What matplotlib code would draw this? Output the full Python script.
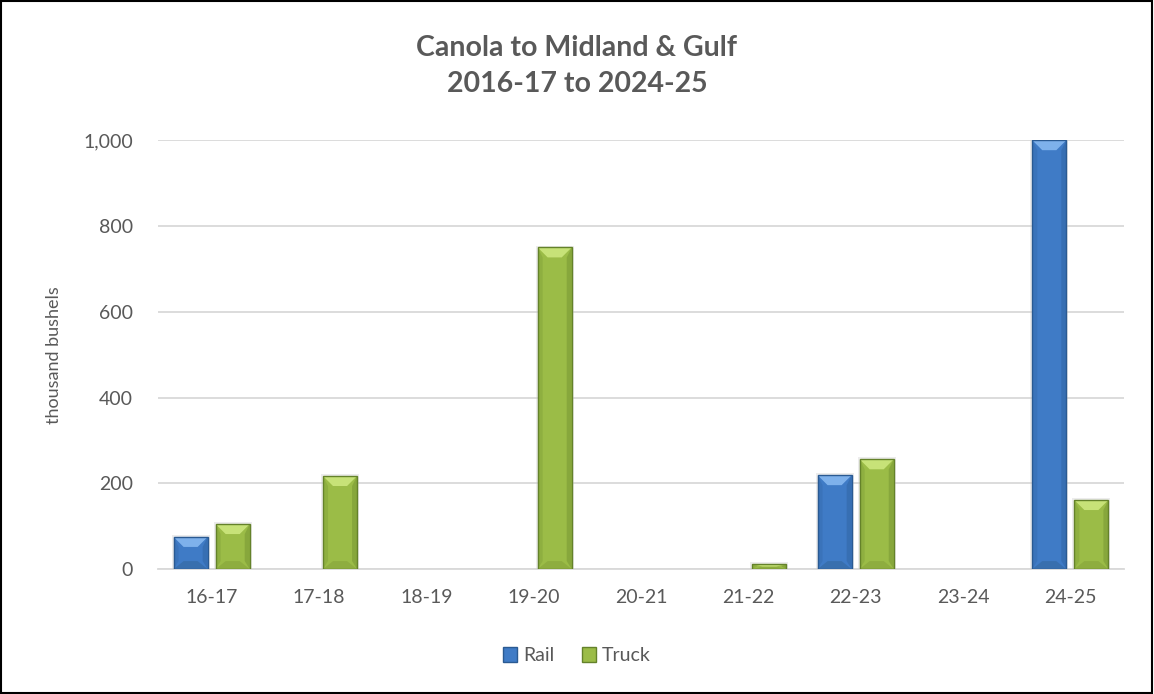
import matplotlib
matplotlib.use("Agg")
import matplotlib.pyplot as plt
from matplotlib.patches import Polygon, Rectangle
from matplotlib.ticker import FuncFormatter
import numpy as np

categories = ["16-17", "17-18", "18-19", "19-20", "20-21", "21-22", "22-23", "23-24", "24-25"]
rail = [75, 0, 0, 0, 0, 0, 219, 0, 1000]
truck = [105, 217, 0, 750, 0, 12, 256, 0, 161]
title = "Canola to Midland & Gulf\n2016-17 to 2024-25"
ylabel = "thousand bushels"

plt.rcParams['font.family'] = ['Lato', 'DejaVu Sans']
TXT = "#595959"

fig = plt.figure(figsize=(11.54, 6.94), dpi=100)
ax = fig.add_axes([0.1369, 0.180, 0.8371, 0.618])

x = np.arange(len(categories))
w = 0.317
gap = 0.075
styles = {
    "Rail": dict(face="#3f7bc6", light="#86b8f0", dark="#2a5a92", low="#34689f"),
    "Truck": dict(face="#9bbc47", light="#cde77e", dark="#64822a", low="#86a33a"),
}
series = [("Rail", rail, -(w + gap) / 2), ("Truck", truck, (w + gap) / 2)]

ax.set_xlim(-0.5, len(categories) - 0.5)
ax.set_ylim(0, 1000)
fig.canvas.draw()

def px_to_data(dx_px, dy_px):
    inv = ax.transData.inverted()
    p0 = inv.transform((0, 0))
    p1 = inv.transform((dx_px, dy_px))
    return p1[0] - p0[0], p1[1] - p0[1]

bx, by = px_to_data(10, 10)

for name, vals, off in series:
    st = styles[name]
    ax.bar(x + off, vals, width=w, color=st["face"], linewidth=0, label=name, zorder=3)
    for xi, v in zip(x + off, vals):
        if v <= 0:
            continue
        l, r = xi - w / 2, xi + w / 2
        h = min(by, v / 2)
        hb = min(by * 0.8, v / 2)
        # soft shadow outline
        ax.add_patch(Rectangle((l - bx * 0.1, 0), w + bx * 0.2, v + by * 0.08,
                               facecolor="none", edgecolor="#c8c8c8", linewidth=1.4,
                               alpha=0.35, zorder=2.9))
        # left / right side shading
        ax.add_patch(Polygon([(l, v), (l + bx * 0.5, v - h), (l + bx * 0.5, hb), (l, 0)],
                             closed=True, facecolor=st["dark"], edgecolor="none",
                             alpha=0.22, zorder=4))
        ax.add_patch(Polygon([(r, v), (r - bx * 0.5, v - h), (r - bx * 0.5, hb), (r, 0)],
                             closed=True, facecolor=st["dark"], edgecolor="none",
                             alpha=0.35, zorder=4))
        # bottom bevel
        ax.add_patch(Polygon([(l, 0), (r, 0), (r - bx, hb), (l + bx, hb)],
                             closed=True, facecolor=st["low"], edgecolor="none",
                             alpha=0.6, zorder=4))
        # top bevel
        ax.add_patch(Polygon([(l, v), (r, v), (r - bx, v - h), (l + bx, v - h)],
                             closed=True, facecolor=st["light"], edgecolor="none",
                             alpha=0.9, zorder=4))
        ax.add_patch(Rectangle((l, 0), w, v, facecolor="none", edgecolor=st["dark"],
                               linewidth=1.0, zorder=5))

ax.set_xticks(x)
ax.set_xticklabels(categories)
ax.set_yticks(range(0, 1001, 200))
ax.yaxis.set_major_formatter(FuncFormatter(lambda v, p: f"{int(v):,}"))
ax.tick_params(axis="both", length=0, labelsize=14, colors=TXT)
ax.tick_params(axis="x", pad=14)
ax.tick_params(axis="y", pad=18)
ax.grid(axis="y", color="#d9d9d9", linewidth=1.3, zorder=0)
ax.set_axisbelow(True)
for s in ["top", "right", "left"]:
    ax.spines[s].set_visible(False)
ax.spines["bottom"].set_color("#d9d9d9")
ax.spines["bottom"].set_linewidth(1.3)
ax.set_ylabel(ylabel, fontsize=13, color=TXT, labelpad=15)

fig.text(0.5, 0.905, title, ha="center", va="center", fontsize=20.5, color=TXT,
         fontweight="bold", linespacing=1.45)

handles, labels = ax.get_legend_handles_labels()
leg = fig.legend(handles, labels, loc="center", bbox_to_anchor=(0.5, 0.055), ncol=2,
                 frameon=False, fontsize=14, handlelength=0.75, handleheight=0.75,
                 columnspacing=1.4, handletextpad=0.3)
for t in leg.get_texts():
    t.set_color(TXT)
for hdl, nm in zip(leg.legend_handles, ["Rail", "Truck"]):
    hdl.set_edgecolor(styles[nm]["dark"])
    hdl.set_linewidth(1.0)

fig.add_artist(Rectangle((0.001, 0.001), 0.997, 0.997, transform=fig.transFigure,
                         facecolor="none", edgecolor="black", linewidth=1.5))

fig.savefig("out.png", dpi=100)
